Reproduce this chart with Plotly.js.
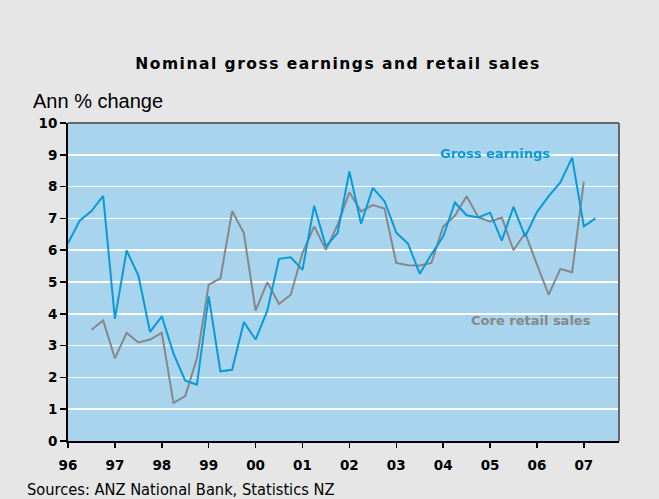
<!DOCTYPE html>
<html><head><meta charset="utf-8">
<script src="https://cdn.plot.ly/plotly-3.0.1.min.js"></script>
<style>html,body{margin:0;padding:0;background:#e6e6e6;}#c{width:659px;height:499px;}
.gtitle{letter-spacing:1.5px;}</style>
</head><body><div id="c"></div>
<script>
const startYear = 1996;
const grossEarnings = [
  6.22, 6.93, 7.23, 7.71,
  3.84, 5.99, 5.21, 3.43,
  3.92, 2.75, 1.90, 1.77,
  4.55, 2.19, 2.24, 3.74,
  3.19, 4.10, 5.73, 5.78,
  5.38, 7.40, 6.12, 6.54,
  8.48, 6.83, 7.96, 7.54,
  6.55, 6.21, 5.26, 5.87,
  6.43, 7.50, 7.10, 7.03,
  7.18, 6.30, 7.36, 6.43,
  7.20, 7.70, 8.13, 8.91,
  6.75, 7.00
];
const retailStart = 1996.5;
const coreRetail = [
  3.50, 3.79,
  2.60, 3.40, 3.10, 3.19,
  3.40, 1.20, 1.41, 2.60,
  4.92, 5.11, 7.23, 6.54,
  4.10, 4.99, 4.31, 4.60,
  5.91, 6.75, 6.01, 6.80,
  7.82, 7.22, 7.42, 7.31,
  5.60, 5.53, 5.52, 5.60,
  6.74, 7.08, 7.70, 7.04,
  6.90, 7.03, 6.00, 6.54,
  5.55, 4.60, 5.41, 5.31,
  8.16
];
const tickYears = [1996,1997,1998,1999,2000,2001,2002,2003,2004,2005,2006,2007];
const tickLabels = ['96','97','98','99','00','01','02','03','04','05','06','07'];

const xg = grossEarnings.map((v,i)=>startYear + i*0.25);
const xr = coreRetail.map((v,i)=>retailStart + i*0.25);

const traces = [
  {x: xr, y: coreRetail, mode:'lines', line:{color:'#878787', width:2}, hoverinfo:'skip'},
  {x: xg, y: grossEarnings, mode:'lines', line:{color:'#0a9ad6', width:2}, hoverinfo:'skip'}
];
const layout = {
  width:659, height:499,
  paper_bgcolor:'#e6e6e6', plot_bgcolor:'#a8d4ee',
  margin:{l:68, r:40, t:123, b:58},
  showlegend:false,
  title:{text:'<b>Nominal gross earnings and retail sales</b>', font:{family:'DejaVu Sans', size:15.5, color:'#000'}, x:0.513, xanchor:'center', y:0.872, yanchor:'middle'},
  xaxis:{range:[1996,2007.75], tickvals:tickYears, ticktext:tickLabels, showgrid:false, zeroline:false,
    ticks:'outside', ticklen:5, tickwidth:1.5, tickcolor:'#000', ticklabelstandoff:6,
    showline:true, linecolor:'#000', linewidth:2,
    tickfont:{family:'DejaVu Sans', size:13.5, color:'#000', weight:'bold'}, fixedrange:true},
  yaxis:{range:[0,10], dtick:1, showgrid:true, gridcolor:'#ffffff', gridwidth:1.5, zeroline:false,
    ticks:'outside', ticklen:6, tickwidth:1.5, tickcolor:'#000',
    showline:true, linecolor:'#000', linewidth:2,
    tickfont:{family:'DejaVu Sans', size:13.5, color:'#000', weight:'bold'}, fixedrange:true},
  shapes:[
    {type:'line', xref:'paper', yref:'paper', x0:0, x1:1, y0:1, y1:1, line:{color:'#666', width:2}},
    {type:'line', xref:'paper', yref:'paper', x0:1, x1:1, y0:0, y1:1, line:{color:'#666', width:2}}
  ],
  annotations:[
    {text:'Ann % change', xref:'paper', yref:'paper', x:-0.068, xanchor:'left', y:1.068, yanchor:'middle', showarrow:false, font:{family:'Liberation Sans', size:20, color:'#000'}},
    {text:'Sources: ANZ National Bank, Statistics NZ', xref:'paper', yref:'paper', x:-0.078, xanchor:'left', y:-0.152, yanchor:'middle', showarrow:false, font:{family:'DejaVu Sans Condensed', size:16.3, color:'#000'}},
    {text:'<b>Gross earnings</b>', x:2005.1, y:9.03, xanchor:'center', yanchor:'middle', showarrow:false, font:{family:'DejaVu Sans', size:13, color:'#0a9ad6'}},
    {text:'<b>Core retail sales</b>', x:2005.87, y:3.78, xanchor:'center', yanchor:'middle', showarrow:false, font:{family:'DejaVu Sans', size:13, color:'#878787'}}
  ]
};
Plotly.newPlot('c', traces, layout, {displayModeBar:false, staticPlot:true});
</script></body></html>
